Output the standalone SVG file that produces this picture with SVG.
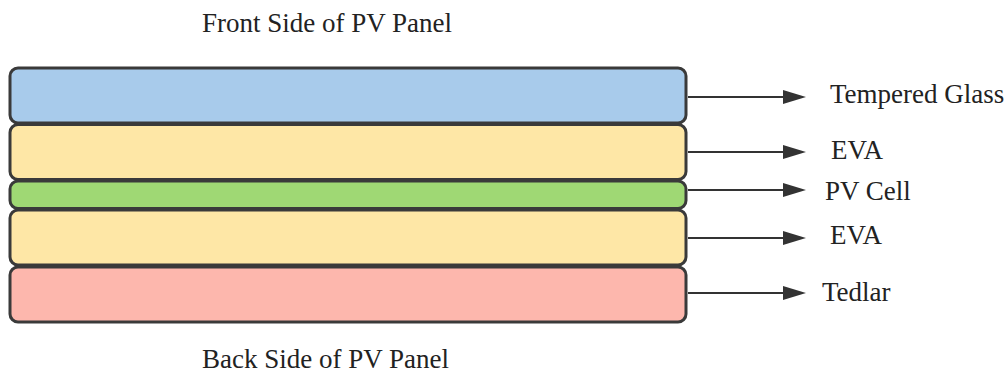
<svg xmlns="http://www.w3.org/2000/svg" width="1006" height="376" viewBox="0 0 1006 376">
<style>
.layer{stroke:#3a3a3a;stroke-width:3}
.t{font-family:"Liberation Serif","Times New Roman",serif;font-size:27px;fill:#222}
.c{stroke:#333;stroke-width:2.2;fill:none}
.h{fill:#333}
</style>
<rect width="1006" height="376" fill="#fff"/>
<g id="front-label"><text class="t" x="202" y="32">Front Side of PV Panel</text></g>
<g id="tempered-glass"><rect class="layer" x="10" y="68" width="676" height="55" rx="8" fill="#a8cbeb"/><text class="t" x="830" y="103">Tempered Glass</text></g>
<g id="eva-top"><rect class="layer" x="10" y="124.5" width="676" height="55" rx="8" fill="#fee7a6"/><text class="t" x="831" y="159">EVA</text></g>
<g id="pv-cell"><rect class="layer" x="10" y="181" width="676" height="27.5" rx="8" fill="#9fd874"/><text class="t" x="825" y="200">PV Cell</text></g>
<g id="eva-bottom"><rect class="layer" x="10" y="210" width="676" height="55" rx="8" fill="#fee7a6"/><text class="t" x="830" y="244">EVA</text></g>
<g id="tedlar"><rect class="layer" x="10" y="267" width="676" height="55" rx="8" fill="#fdb7ad"/><text class="t" x="822" y="301">Tedlar</text></g>
<g id="back-label"><text class="t" x="202" y="368">Back Side of PV Panel</text></g>
<g id="connectors">
<line class="c" x1="688" y1="97" x2="786" y2="97"/><polygon class="h" points="783,90 806,97 783,104"/>
<line class="c" x1="688" y1="152" x2="786" y2="152"/><polygon class="h" points="783,145 806,152 783,159"/>
<line class="c" x1="688" y1="190" x2="786" y2="190"/><polygon class="h" points="783,183 806,190 783,197"/>
<line class="c" x1="688" y1="238" x2="786" y2="238"/><polygon class="h" points="783,231 806,238 783,245"/>
<line class="c" x1="688" y1="293" x2="786" y2="293"/><polygon class="h" points="783,286 806,293 783,300"/>
</g>
</svg>
